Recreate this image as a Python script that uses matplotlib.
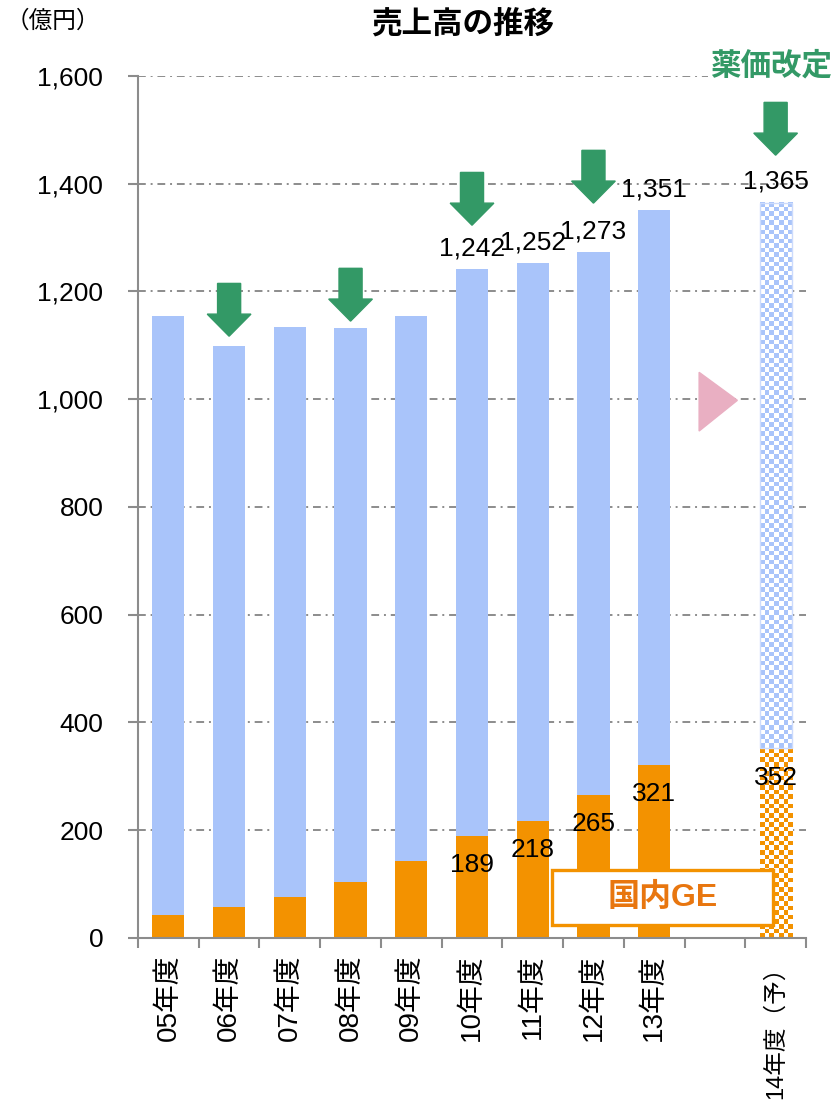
import numpy as np
import matplotlib.pyplot as plt
from matplotlib.patches import Rectangle, Polygon

plt.rcParams['font.family'] = ['Liberation Sans', 'Noto Sans CJK JP']

# 売上高 (億円)
years = ["05年度", "06年度", "07年度", "08年度", "09年度", "10年度",
         "11年度", "12年度", "13年度", "", "14年度（予）"]
total = [1154, 1098, 1135, 1132, 1154, 1242, 1252, 1273, 1351, None, 1365]
ge = [43, 58, 76, 104, 143, 189, 218, 265, 321, None, 352]
labeled = [False] * 5 + [True] * 6
forecast = "14年度（予）"

# 薬価改定 arrows: year and tip value
revision_years = ["06年度", "08年度", "10年度", "12年度", "14年度（予）"]
revision_tips = [1117, 1145, 1323, 1364, 1453]

BLUE = "#A9C4FA"
ORANGE = "#F39200"
GREEN = "#339966"
GRID = "#8C8C8C"

fig = plt.figure(figsize=(8.38, 11.03), dpi=100)
ax = fig.add_axes([0.1647, 0.1496, 0.7971, 0.7815])
x = np.arange(len(years))
w = 0.53


def checker(ax, xc, y0, y1, color, cell=8.5, ncols=7):
    nrows = max(1, int(round((y1 - y0) / cell)))
    r, c = np.indices((nrows, ncols))
    rgb = np.array(plt.matplotlib.colors.to_rgb(color))
    img = np.ones((nrows, ncols, 3))
    img[(r + c) % 2 == 0] = rgb
    ax.imshow(img, extent=(xc - w / 2, xc + w / 2, y0, y1), origin="lower",
              aspect="auto", interpolation="nearest", zorder=2)


for i, (t, g) in enumerate(zip(total, ge)):
    if t is None:
        continue
    if years[i] == forecast:
        checker(ax, x[i], 0, g, ORANGE)
        checker(ax, x[i], g, t, BLUE)
        ax.add_patch(Rectangle((x[i] - w / 2, g), w, t - g, fill=False,
                               ec="#CCDBFC", lw=1, zorder=2.1))
    else:
        ax.bar(x[i], g, w, color=ORANGE, zorder=2)
        ax.bar(x[i], t - g, w, bottom=g, color=BLUE, zorder=2)
    if labeled[i]:
        ax.annotate(f"{t:,}", (x[i], t), xytext=(0, 15), textcoords="offset points",
                    ha="center", va="center", fontsize=19, zorder=5)
        ax.annotate(f"{g:,}", (x[i], g), xytext=(0, -21), textcoords="offset points",
                    ha="center", va="center", fontsize=19, zorder=5)

# green arrows
for yr, tip in zip(revision_years, revision_tips):
    xc = years.index(yr)
    hw, sw, hh, th = 0.36, 0.19, 41, 98
    pts = [(xc, tip), (xc - hw, tip + hh), (xc - sw, tip + hh), (xc - sw, tip + th),
           (xc + sw, tip + th), (xc + sw, tip + hh), (xc + hw, tip + hh)]
    ax.add_patch(Polygon(pts, closed=True, color=GREEN, zorder=4, clip_on=False))

# pink triangle
ax.add_patch(Polygon([(8.74, 1050), (8.74, 941), (9.37, 998)], closed=True,
                     color="#E9AFC2", zorder=3))

# 国内GE box
ax.add_patch(Rectangle((6.32, 24), 3.64, 102, fc="white", ec=ORANGE, lw=2.4, zorder=6))
ax.text(8.14, 75, "国内GE", ha="center", va="center", fontsize=23,
        fontweight="bold", color="#E8760F", zorder=7)

ax.set_xlim(-0.5, len(years) - 0.5)
ax.set_ylim(0, 1600)
ax.set_yticks(np.arange(0, 1601, 200))
ax.set_yticklabels([f"{v:,}" for v in range(0, 1601, 200)], fontsize=19)
for v in range(200, 1601, 200):
    ax.axhline(v, color=GRID, lw=1.4, ls=(0, (4, 2.5, 1, 2.5)), zorder=1)

ax.set_xticks(x)
ax.set_xticklabels(years, rotation=90, fontsize=20, va="top", ha="center")
for lbl in ax.get_xticklabels():
    if lbl.get_text() == forecast:
        lbl.set_fontsize(17)
ax.set_xticks(np.arange(-0.5, len(years)), minor=True)
ax.tick_params(axis="x", which="major", length=0, pad=12)
ax.tick_params(axis="x", which="minor", length=7, width=1.5, color=GRID)
ax.tick_params(axis="y", length=7, width=1.5, color=GRID, pad=18)

for s in ["top", "right"]:
    ax.spines[s].set_visible(False)
for s in ["left", "bottom"]:
    ax.spines[s].set_color(GRID)
    ax.spines[s].set_linewidth(1.5)

fig.text(463 / 838, 1 - 25 / 1103, "売上高の推移", ha="center", va="center",
         fontsize=22, fontweight="bold")
fig.text(6 / 838, 1 - 21 / 1103, "（億円）", ha="left", va="center", fontsize=17)
fig.text(771 / 838, 1 - 66 / 1103, "薬価改定", ha="center", va="center",
         fontsize=22, fontweight="bold", color=GREEN,
         bbox=dict(fc="white", ec="none", pad=1))

fig.savefig("out.png", dpi=100)
